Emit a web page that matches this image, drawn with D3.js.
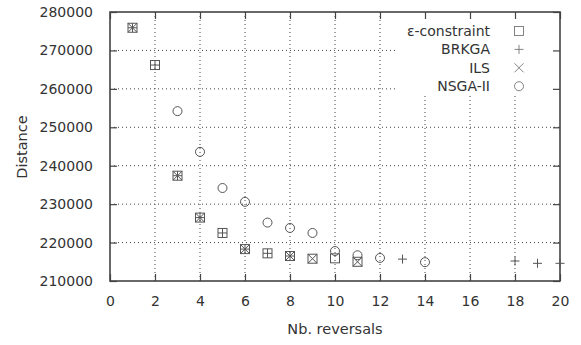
<!DOCTYPE html>
<html>
<head>
<meta charset="utf-8">
<script src="https://cdn.jsdelivr.net/npm/d3@7"></script>
<style>
  body { margin: 0; background: #fff; }
  text { font-family: "DejaVu Sans", Verdana, sans-serif; fill: #333; }
</style>
</head>
<body>
<svg id="chart" width="581" height="345"></svg>
<script>
// values
var epsX = [1, 2, 3, 4, 5, 6, 7, 8, 9, 10, 11];
var epsY = [275900, 266200, 237400, 226500, 222500, 218300, 217200, 216500, 215800, 215900, 215000];

var brkgaX = [1, 2, 3, 4, 5, 6, 7, 8, 13, 18, 19, 20];
var brkgaY = [275900, 266200, 237400, 226500, 222500, 218300, 217200, 216500, 215700, 215200, 214600, 214600];

var ilsX = [1, 3, 4, 6, 8, 9, 11];
var ilsY = [275900, 237400, 226500, 218300, 216500, 215800, 215000];

var nsgaX = [3, 4, 5, 6, 7, 8, 9, 10, 11, 12, 14];
var nsgaY = [254200, 243600, 234200, 230600, 225200, 223800, 222500, 217800, 216700, 216000, 214900];

var xTicks = [0, 2, 4, 6, 8, 10, 12, 14, 16, 18, 20];
var yTicks = [210000, 220000, 230000, 240000, 250000, 260000, 270000, 280000];

var seriesNames = ["ε-constraint", "BRKGA", "ILS", "NSGA-II"];
var seriesShapes = ["square", "plus", "cross", "circle"];

var svg = d3.select("#chart");
var pLeft = 110, pRight = 560, pTop = 12, pBottom = 281;
var ink = "#444";

var x = d3.scaleLinear().domain([0, 20]).range([pLeft, pRight]);
var y = d3.scaleLinear().domain([210000, 280000]).range([pBottom, pTop]);

// grid
var grid = svg.append("g");
grid.selectAll("line.gx").data(xTicks.slice(1, -1)).enter().append("line")
  .attr("x1", d => x(d)).attr("x2", d => x(d))
  .attr("y1", pTop).attr("y2", pBottom)
  .attr("stroke", ink).attr("stroke-width", 1).attr("stroke-dasharray", "1,3");
grid.selectAll("line.gy").data(yTicks.slice(1, -1)).enter().append("line")
  .attr("y1", d => y(d)).attr("y2", d => y(d))
  .attr("x1", pLeft).attr("x2", pRight)
  .attr("stroke", ink).attr("stroke-width", 1).attr("stroke-dasharray", "1,3");

// opaque key box hides the grid behind the legend
svg.append("rect").attr("x", 398).attr("y", pTop).attr("width", pRight - 398).attr("height", 84)
  .attr("fill", "#fff");

// axes (ticks inward, mirrored)
var xAxis = svg.append("g").attr("transform", "translate(0," + pBottom + ")")
  .call(d3.axisBottom(x).tickValues(xTicks).tickSize(-7).tickPadding(15).tickFormat(d3.format("d")));
var xTop = svg.append("g").attr("transform", "translate(0," + pTop + ")")
  .call(d3.axisTop(x).tickValues(xTicks).tickSize(-7).tickFormat(""));
var yAxis = svg.append("g").attr("transform", "translate(" + pLeft + ",0)")
  .call(d3.axisLeft(y).tickValues(yTicks).tickSize(-7).tickPadding(17).tickFormat(d3.format("d")));
var yRight = svg.append("g").attr("transform", "translate(" + pRight + ",0)")
  .call(d3.axisRight(y).tickValues(yTicks).tickSize(-7).tickFormat(""));

[xAxis, xTop, yAxis, yRight].forEach(function(a){
  a.selectAll(".domain").remove();
  a.selectAll(".tick line").attr("stroke", ink).attr("stroke-width", 1.2);
  a.selectAll(".tick text").attr("font-size", 14).attr("fill", "#333")
    .attr("font-family", "DejaVu Sans, Verdana, sans-serif");
});

svg.append("rect")
  .attr("x", pLeft).attr("y", pTop)
  .attr("width", pRight - pLeft).attr("height", pBottom - pTop)
  .attr("fill", "none").attr("stroke", ink).attr("stroke-width", 1.6);

// axis titles
svg.append("text").attr("x", (pLeft + pRight) / 2).attr("y", 334)
  .attr("text-anchor", "middle").attr("font-size", 14.5).text("Nb. reversals");
svg.append("text").attr("transform", "translate(27,147) rotate(-90)")
  .attr("text-anchor", "middle").attr("font-size", 14.5).text("Distance");

// markers
function drawMarker(g, shape, cx, cy){
  var s = 4.5;
  if (shape == "square") {
    g.append("rect").attr("x", cx - s).attr("y", cy - s).attr("width", 2 * s).attr("height", 2 * s);
  } else if (shape == "plus") {
    g.append("path").attr("d", "M" + (cx - s) + "," + cy + "H" + (cx + s) + "M" + cx + "," + (cy - s) + "V" + (cy + s));
  } else if (shape == "cross") {
    g.append("path").attr("d", "M" + (cx - s) + "," + (cy - s) + "L" + (cx + s) + "," + (cy + s) +
      "M" + (cx - s) + "," + (cy + s) + "L" + (cx + s) + "," + (cy - s));
  } else {
    g.append("circle").attr("cx", cx).attr("cy", cy).attr("r", s);
  }
}

var allX = [epsX, brkgaX, ilsX, nsgaX];
var allY = [epsY, brkgaY, ilsY, nsgaY];

var marks = svg.append("g").attr("fill", "none").attr("stroke", "#555").attr("stroke-width", 1);
allX.forEach(function(xs, si){
  xs.forEach(function(xv, i){
    drawMarker(marks, seriesShapes[si], x(xv), y(allY[si][i]));
  });
});

// legend
var legend = svg.append("g");
seriesNames.forEach(function(name, i){
  var cy = 31 + i * 18.4;
  legend.append("text").attr("x", 490).attr("y", cy + 5)
    .attr("text-anchor", "end").attr("font-size", 14).text(name);
  var lg = legend.append("g").attr("fill", "none").attr("stroke", "#777").attr("stroke-width", 0.9);
  drawMarker(lg, seriesShapes[i], 519, cy);
});
</script>
</body>
</html>
